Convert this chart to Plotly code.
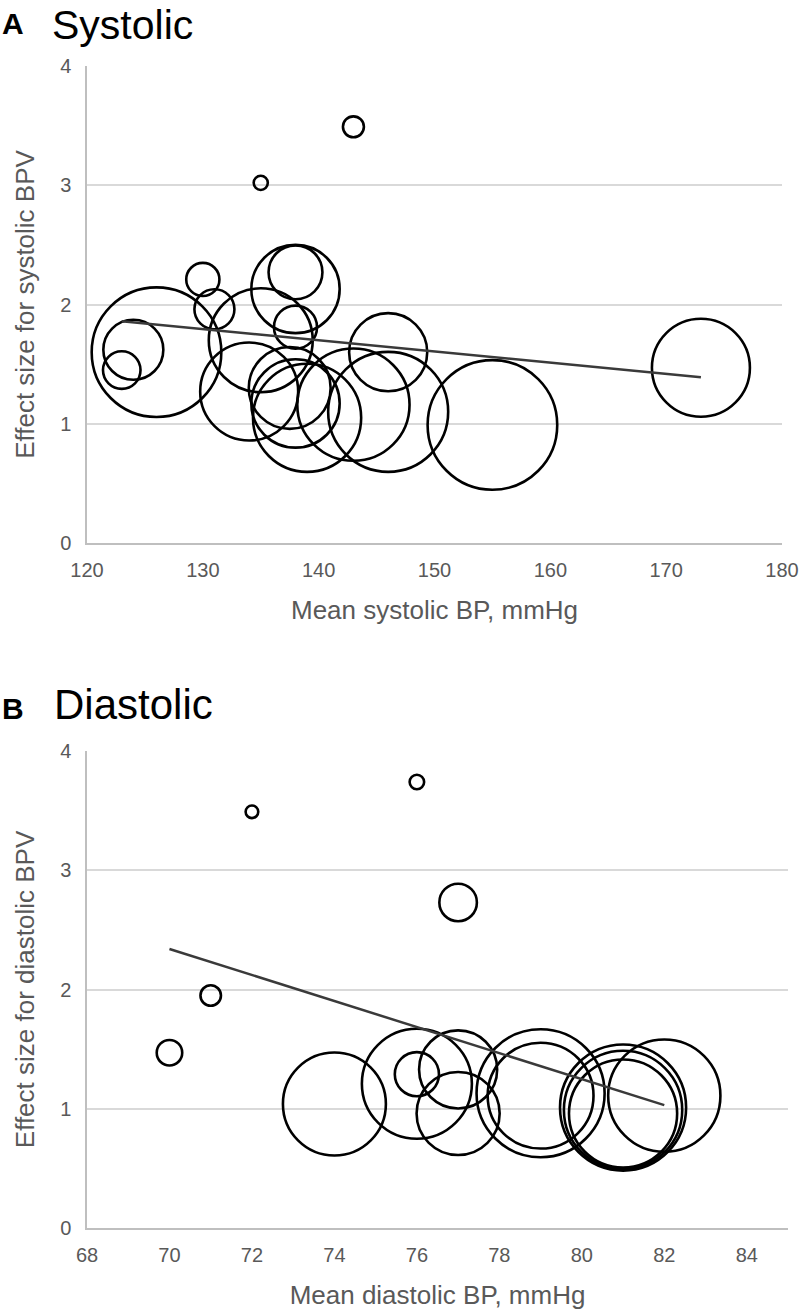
import plotly.graph_objects as go

# ---------------- Panel A: Systolic ----------------
sys_x = [123, 124, 126, 130, 131, 135, 135, 134, 138, 138, 138, 137.5, 138, 139, 143, 143, 146, 146, 155, 173]
sys_y = [1.45, 1.62, 1.60, 2.21, 1.96, 3.02, 1.70, 1.27, 2.27, 2.13, 1.81, 1.30, 1.17, 1.05, 3.49, 1.16, 1.60, 1.10, 0.99, 1.47]
sys_w = [14.1, 36.0, 168.0, 11.0, 16.0, 2.0, 108.0, 96.0, 29.0, 78.0, 18.5, 67.0, 78.0, 117.0, 4.4, 126.0, 61.0, 144.0, 168.0, 96.0]
sys_trend_x = [123, 173]
sys_trend_y = [1.86, 1.39]
sys_xticks = [120, 130, 140, 150, 160, 170, 180]

# ---------------- Panel B: Diastolic ----------------
dia_x = [70, 71, 72, 74, 76, 76, 76, 77, 77, 77, 79, 79, 81, 81, 81, 82]
dia_y = [1.47, 1.95, 3.49, 1.04, 3.74, 1.21, 1.29, 2.73, 1.33, 0.96, 1.13, 1.11, 1.01, 0.96, 0.99, 1.11]
dia_w = [6.5, 4.2, 1.6, 106.0, 2.1, 121.0, 19.5, 14.1, 61.0, 69.0, 164.0, 112.0, 159.0, 117.0, 140.0, 126.0]
dia_trend_x = [70, 82]
dia_trend_y = [2.34, 1.03]
dia_xticks = [68, 70, 72, 74, 76, 78, 80, 82, 84]

yticks = [0, 1, 2, 3, 4]

W, H = 800, 1311
FONT = "Liberation Sans, Arial, sans-serif"
GREY = "#595959"


def px_x(p):
    return p / W


def py(p):
    return 1 - p / H


fig = go.Figure()

bubble_marker = dict(sizemode="area", sizeref=0.02, sizemin=1, opacity=1,
                     color="rgba(0,0,0,0)", line=dict(color="black", width=2.6))

fig.add_trace(go.Scatter(x=sys_x, y=sys_y, mode="markers",
                         marker=dict(size=sys_w, **bubble_marker),
                         xaxis="x", yaxis="y", hoverinfo="skip", showlegend=False))
fig.add_trace(go.Scatter(x=sys_trend_x, y=sys_trend_y, mode="lines",
                         line=dict(color="#3a3a3a", width=2.5),
                         xaxis="x", yaxis="y", hoverinfo="skip", showlegend=False))

fig.add_trace(go.Scatter(x=dia_x, y=dia_y, mode="markers",
                         marker=dict(size=dia_w, **bubble_marker),
                         xaxis="x2", yaxis="y2", hoverinfo="skip", showlegend=False))
fig.add_trace(go.Scatter(x=dia_trend_x, y=dia_trend_y, mode="lines",
                         line=dict(color="#3a3a3a", width=2.5),
                         xaxis="x2", yaxis="y2", hoverinfo="skip", showlegend=False))


def xaxis(domain, rng, ticks, title, anchor):
    return dict(domain=domain, range=rng, tickvals=ticks, anchor=anchor,
                automargin=False,
                showgrid=False, zeroline=False, showline=True,
                linecolor="#bfbfbf", linewidth=1.5,
                ticks="outside", ticklen=8, tickcolor="rgba(0,0,0,0)",
                tickfont=dict(family=FONT, size=20, color=GREY),
                title=dict(text=title, font=dict(family=FONT, size=26, color=GREY), standoff=21),
                fixedrange=True)


def yaxis(domain, title, anchor):
    return dict(domain=domain, range=[0, 4], tickvals=yticks, anchor=anchor,
                automargin=False,
                showgrid=True, gridcolor="#d9d9d9", gridwidth=1.5,
                zeroline=False, showline=True, linecolor="#bfbfbf", linewidth=1.5,
                ticks="outside", ticklen=10, tickcolor="rgba(0,0,0,0)",
                tickfont=dict(family=FONT, size=20, color=GREY),
                title=dict(text=title, font=dict(family=FONT, size=26, color=GREY), standoff=18),
                fixedrange=True)


fig.update_layout(
    width=W, height=H,
    margin=dict(l=0, r=0, t=0, b=0, autoexpand=False),
    paper_bgcolor="white", plot_bgcolor="white",
    showlegend=False,
    xaxis=xaxis([px_x(87), px_x(782)], [120, 180], sys_xticks, "Mean systolic BP, mmHg", "y"),
    yaxis=yaxis([py(543), py(66)], "Effect size for systolic BPV", "x"),
    xaxis2=xaxis([px_x(87), px_x(788)], [68, 85], dia_xticks, "Mean diastolic BP, mmHg", "y2"),
    yaxis2=yaxis([py(1228), py(751)], "Effect size for diastolic BPV", "x2"),
    annotations=[
        dict(text="<b>A</b>", x=0, y=py(23), xref="paper", yref="paper",
             xanchor="left", yanchor="middle", showarrow=False,
             font=dict(family=FONT, size=30, color="black")),
        dict(text="Systolic", x=px_x(50), y=1, xref="paper", yref="paper",
             xanchor="left", yanchor="top", showarrow=False,
             font=dict(family=FONT, size=41, color="black")),
        dict(text="<b>B</b>", x=0, y=py(708), xref="paper", yref="paper",
             xanchor="left", yanchor="middle", showarrow=False,
             font=dict(family=FONT, size=30, color="black")),
        dict(text="Diastolic", x=px_x(52), y=py(704), xref="paper", yref="paper",
             xanchor="left", yanchor="middle", showarrow=False,
             font=dict(family=FONT, size=42, color="black")),
    ],
)

fig.write_html("out.html", config={"displayModeBar": False},
               post_script="document.body.style.margin='0px';")
